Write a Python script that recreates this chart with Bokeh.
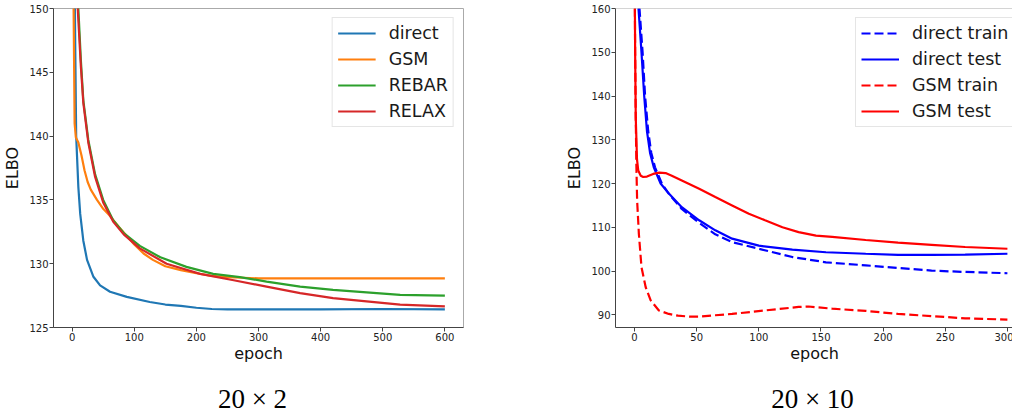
from bokeh.plotting import figure
from bokeh.layouts import row, column
from bokeh.models import Legend, LegendItem, Span, Range1d, FixedTicker
from bokeh.core.properties import value
from bokeh.embed import file_html
from bokeh.resources import INLINE

# ---- left panel (20 x 2) ----
direct_x = [0, 3, 5, 6.5, 10, 13, 18, 24, 34, 45, 61, 88, 125, 150, 175, 200, 225, 250, 300, 400, 500, 600]
direct_y = [175, 158, 147, 140, 136, 133.9, 131.8, 130.3, 129.0, 128.3, 127.8, 127.4, 127.0, 126.8, 126.7, 126.55, 126.45, 126.42, 126.42, 126.42, 126.45, 126.42]

gsm_x = [0, 2, 4, 6, 10, 15, 20, 25, 30, 40, 50, 60, 75, 100, 115, 130, 150, 175, 200, 225, 250, 275, 300, 400, 500, 600]
gsm_y = [175, 152, 141, 139.9, 139.5, 138.5, 137.3, 136.4, 135.8, 135.0, 134.3, 133.8, 132.9, 131.5, 130.8, 130.3, 129.8, 129.5, 129.25, 129.05, 128.95, 128.9, 128.85, 128.85, 128.85, 128.85]

rebar_x = [5, 10, 14, 18, 26, 37, 50, 66, 83, 109, 142, 184, 227, 270, 313, 367, 420, 474, 528, 600]
rebar_y = [175, 150, 146, 142.8, 139.7, 137.0, 135.0, 133.4, 132.4, 131.4, 130.5, 129.75, 129.2, 128.95, 128.6, 128.2, 127.95, 127.75, 127.55, 127.5]

relax_x = [5, 9, 14, 18, 26, 37, 50, 66, 83, 109, 152, 206, 260, 313, 367, 420, 474, 528, 600]
relax_y = [175, 150, 145.5, 142.6, 139.5, 136.8, 134.8, 133.3, 132.3, 131.2, 130.0, 129.2, 128.7, 128.2, 127.7, 127.3, 127.05, 126.8, 126.65]

left_xticks = [0, 100, 200, 300, 400, 500, 600]
left_yticks = [125, 130, 135, 140, 145, 150]

# ---- right panel (20 x 10) ----
dtrain_x = [3, 4, 6.5, 8.5, 11, 13.5, 16.5, 22, 28, 38, 52, 65, 78.5, 100, 127, 154, 186, 212, 239, 266, 300]
dtrain_y = [175, 160, 150, 140, 132, 127, 123.7, 120, 117.5, 114.2, 111.0, 108.4, 106.6, 105.1, 103.2, 102.0, 101.3, 100.7, 100.1, 99.8, 99.5]

dtest_x = [2, 3.2, 5.6, 7.8, 10, 12.5, 15.5, 21, 27.6, 38, 52, 65, 78.5, 100, 127, 154, 186, 212, 239, 266, 300]
dtest_y = [175, 160, 150, 140, 132, 127, 123.7, 120, 117.7, 114.6, 111.6, 109.3, 107.4, 105.8, 104.9, 104.3, 103.95, 103.7, 103.7, 103.75, 103.95]

gtrain_x = [0, 0.5, 1, 1.5, 2.1, 3.5, 5.6, 9, 13, 19.6, 27.6, 35, 44, 52, 65, 78.5, 105, 132, 140, 159, 186, 212, 239, 266, 300]
gtrain_y = [175, 150, 135, 124, 116.1, 108.5, 100.9, 96.3, 93.3, 91.0, 90.2, 89.8, 89.6, 89.6, 89.9, 90.2, 91.0, 91.8, 91.9, 91.4, 90.9, 90.2, 89.7, 89.2, 88.9]

gtest_x = [0, 0.5, 1, 2, 3, 5, 7, 10, 15, 20, 25, 30, 41, 52, 65, 78.5, 92, 105, 119, 132, 146, 159, 186, 212, 239, 266, 300]
gtest_y = [175, 150, 135, 125.5, 123, 121.8, 121.5, 121.6, 122.2, 122.5, 122.4, 121.8, 120.3, 118.8, 116.9, 115.0, 113.1, 111.6, 110.0, 108.9, 108.1, 107.8, 107.1, 106.5, 106.0, 105.5, 105.1]

right_xticks = [0, 50, 100, 150, 200, 250, 300]
right_yticks = [90, 100, 110, 120, 130, 140, 150, 160]

captions = ["20 × 2", "20 × 10"]

FONT = "DejaVu Sans"
LW = 2.2
FH = 319
CAP_H = 49
TOTAL_W = 1004


def style(p, xticks, yticks):
    p.xgrid.visible = False
    p.ygrid.visible = False
    p.xaxis.ticker = FixedTicker(ticks=xticks)
    p.yaxis.ticker = FixedTicker(ticks=yticks)
    for ax in (p.xaxis[0], p.yaxis[0]):
        ax.minor_tick_line_color = None
        ax.major_tick_in = 0
        ax.major_tick_out = 4
        ax.major_tick_line_color = "#444444"
        ax.axis_line_color = "#444444"
        ax.major_label_text_font = FONT
        ax.major_label_text_font_size = "10px"
        ax.major_label_text_color = "#222222"
        ax.axis_label_text_font = FONT
        ax.axis_label_text_font_size = "16px"
        ax.axis_label_text_font_style = "normal"
        ax.axis_label_text_color = "#111111"
        ax.major_label_standoff = 1
    p.xaxis[0].axis_label_standoff = 0
    p.yaxis[0].axis_label_standoff = 4
    p.xaxis.axis_label = "epoch"
    p.yaxis.axis_label = "ELBO"


def make_legend(items, **kw):
    return Legend(items=items, padding=5, spacing=6,
                  glyph_width=38, glyph_height=20, label_height=20, label_standoff=13,
                  label_text_font=FONT, label_text_font_size="17.5px",
                  label_text_color="#1a1a1a",
                  border_line_color="#cccccc", border_line_width=1,
                  background_fill_alpha=0.85, **kw)


p1 = figure(frame_width=410, frame_height=FH, output_backend="svg", toolbar_location=None,
            x_range=Range1d(-30, 630), y_range=Range1d(125, 150),
            min_border_left=20, min_border_right=99, min_border_top=8, min_border_bottom=38)
style(p1, left_xticks, left_yticks)
p1.outline_line_color = "#aaaaaa"

c_dir = p1.line(direct_x, direct_y, line_color="#1f77b4", line_width=LW)
c_gsm = p1.line(gsm_x, gsm_y, line_color="#ff7f0e", line_width=LW)
c_reb = p1.line(rebar_x, rebar_y, line_color="#2ca02c", line_width=LW)
c_rel = p1.line(relax_x, relax_y, line_color="#d62728", line_width=LW)

leg1 = make_legend([LegendItem(label="direct", renderers=[c_dir]),
                    LegendItem(label="GSM", renderers=[c_gsm]),
                    LegendItem(label="REBAR", renderers=[c_reb]),
                    LegendItem(label="RELAX", renderers=[c_rel])],
                   location="top_right", margin=9)
p1.add_layout(leg1)

p2 = figure(frame_width=398, frame_height=FH, output_backend="svg", toolbar_location=None,
            x_range=Range1d(-15.3, 304.9), y_range=Range1d(87.1, 160),
            min_border_left=20, min_border_right=0, min_border_top=8, min_border_bottom=38)
style(p2, right_xticks, right_yticks)
p2.outline_line_color = None
p2.add_layout(Span(location=160, dimension="width", line_color="#aaaaaa", line_width=1))

c_dtr = p2.line(dtrain_x, dtrain_y, line_color="#0000ff", line_width=LW, line_dash="9 4")
c_dte = p2.line(dtest_x, dtest_y, line_color="#0000ff", line_width=LW)
c_gtr = p2.line(gtrain_x, gtrain_y, line_color="#ff0000", line_width=LW, line_dash="9 4")
c_gte = p2.line(gtest_x, gtest_y, line_color="#ff0000", line_width=LW)

leg2 = make_legend([LegendItem(label="direct train", renderers=[c_dtr]),
                    LegendItem(label="direct test", renderers=[c_dte]),
                    LegendItem(label="GSM train", renderers=[c_gtr]),
                    LegendItem(label="GSM test", renderers=[c_gte])],
                   location=(240, FH - 9 - 110))
p2.add_layout(leg2)

# caption strip below the two panels (pixel coordinate space)
pc = figure(width=TOTAL_W, height=CAP_H, output_backend="svg", toolbar_location=None,
            x_range=Range1d(0, TOTAL_W), y_range=Range1d(0, CAP_H),
            x_axis_location=None, y_axis_location=None, min_border=0)
pc.outline_line_color = None
pc.xgrid.visible = False
pc.ygrid.visible = False
pc.text(x=[252, 812], y=[16, 16], text=captions, text_align="center", text_baseline="middle",
        text_font=value("Liberation Serif"), text_font_size="27px", text_color="#000000")

layout = column(row(p1, p2), pc)

open("out.html", "w").write(file_html(layout, INLINE))
